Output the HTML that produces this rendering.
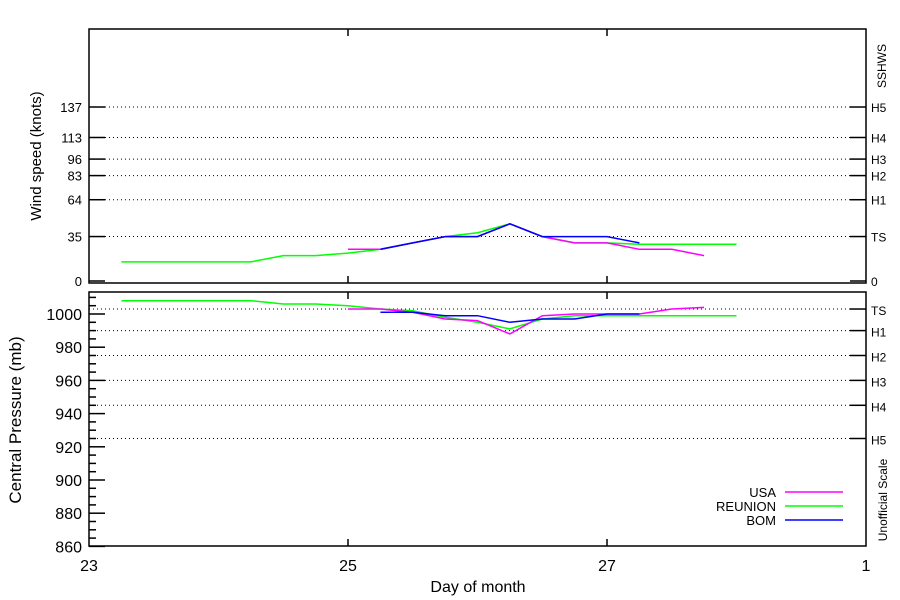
<!DOCTYPE html>
<html><head><meta charset="utf-8"><style>
body{margin:0;background:#fff}
svg{display:block;font-family:"Liberation Sans",sans-serif}
</style></head><body>
<svg id="c" width="900" height="600" viewBox="0 0 900 600"></svg>
<script>
const days=[23,25,27,29];
const dayLabels=["23","25","27","1"];
const windTicks=[0,35,64,83,96,113,137];
const windCats=["0","TS","H1","H2","H3","H4","H5"];
const presTicks=[860,880,900,920,940,960,980,1000];
const presCatVals=[1003,990,975,960,945,925];
const presCats=["TS","H1","H2","H3","H4","H5"];
const usaT=[25,25.25,25.5,25.75,26,26.25,26.5,26.75,27,27.25,27.5,27.75];
const usaW=[25,25,30,35,35,45,35,30,30,25,25,20];
const usaP=[1003,1003,1001,997,996,988,999,1000,1000,1000,1003,1004];
const reuT=[23.25,24.25,24.5,24.75,25,25.25,25.5,25.75,26,26.25,26.5,26.75,27,27.25,27.5,27.75,28];
const reuW=[15,15,20,20,22,25,30,35,38,45,35,30,30,29,29,29,29];
const reuP=[1008,1008,1006,1006,1005,1003,1002,998,995,991,997,999,999,999,999,999,999];
const bomT=[25.25,25.5,25.75,26,26.25,26.5,26.75,27,27.25];
const bomW=[25,30,35,35,45,35,35,35,30];
const bomP=[1001,1001,999,999,995,997,997,1000,1000];

const svg=document.getElementById('c');
const NS="http://www.w3.org/2000/svg";
function el(tag,attrs,parent){const e=document.createElementNS(NS,tag);for(const k in attrs)e.setAttribute(k,attrs[k]);(parent||svg).appendChild(e);return e;}
const X0=89,X1=866;
const x=d=>X0+(d-23)/6*(X1-X0);
const yW=v=>281-v*1.27;
const yP=v=>314-(v-1000)*1.66;
const T1=29,B1=283,T2=292,B2=546;

// panels
let p1=el('rect',{x:X0,y:T1,width:X1-X0,height:B1-T1,fill:'none',stroke:'#000','stroke-width':1.5});

let p2=el('rect',{x:X0,y:T2,width:X1-X0,height:B2-T2,fill:'none',stroke:'#000','stroke-width':1.5});


// x ticks
days.forEach((d,i)=>{
  [[T1,1],[B1,-1],[T2,1],[B2,-1]].forEach(([yy,s])=>{
    if(d>23&&d<29){let t=el('line',{x1:x(d),x2:x(d),y1:yy,y2:yy+s*7,stroke:'#000','stroke-width':1.5});
    }
  });
  let t=el('text',{x:x(d),y:571,'text-anchor':'middle','font-size':16});
  t.textContent=dayLabels[i];
  
});
let xt=el('text',{x:478,y:592,'text-anchor':'middle','font-size':16});xt.textContent='Day of month';


// wind grid
windTicks.forEach((v,i)=>{
  const yy=yW(v);
  if(v>0){let g=el('line',{x1:X0,x2:X1,y1:yy,y2:yy,stroke:'#000','stroke-dasharray':'1,3'});
  }
  let a=el('line',{x1:X0,x2:X0+16,y1:yy,y2:yy,stroke:'#000','stroke-width':1.5});
  
  let b=el('line',{x1:X1-16,x2:X1,y1:yy,y2:yy,stroke:'#000','stroke-width':1.5});
  
  let t=el('text',{x:82,y:yy+5,'text-anchor':'end','font-size':13});t.textContent=v;
  
  let c=el('text',{x:871,y:yy+5,'font-size':12});c.textContent=windCats[i];
  
});
let wt=el('text',{x:0,y:0,'text-anchor':'middle','font-size':15,transform:'translate(41,156) rotate(-90)'});wt.textContent='Wind speed (knots)';

let ss=el('text',{x:0,y:0,'text-anchor':'middle','font-size':12,transform:'translate(886,66) rotate(-90)'});ss.textContent='SSHWS';


// pressure axis
for(let v=860;v<=1010;v+=5){
  const yy=yP(v);const major=v%20===0;
  let a=el('line',{x1:X0,x2:X0+(major?16:7),y1:yy,y2:yy,stroke:'#000','stroke-width':1.5});
  
}
presTicks.forEach(v=>{
  let t=el('text',{x:82,y:yP(v)+6,'text-anchor':'end','font-size':16});t.textContent=v;
  
});
presCatVals.forEach((v,i)=>{
  const yy=yP(v);
  let g=el('line',{x1:X0,x2:X1,y1:yy,y2:yy,stroke:'#000','stroke-dasharray':'1,3'});
  
  let b=el('line',{x1:X1-16,x2:X1,y1:yy,y2:yy,stroke:'#000','stroke-width':1.5});
  
  let c=el('text',{x:871,y:yy+6,'font-size':12});c.textContent=presCats[i];
  
});
let pt=el('text',{x:0,y:0,'text-anchor':'middle','font-size':17,transform:'translate(21,420) rotate(-90)'});pt.textContent='Central Pressure (mb)';

let us=el('text',{x:0,y:0,'text-anchor':'middle','font-size':12,transform:'translate(887,500) rotate(-90)'});us.textContent='Unofficial Scale';


// series
function line(ts,vs,fy,color,name){
  const pts=ts.map((t,i)=>x(t).toFixed(1)+','+fy(vs[i]).toFixed(1)).join(' ');
  let p=el('polyline',{points:pts,fill:'none',stroke:color,'stroke-width':1.5});
  
}
line(reuT,reuW,yW,'#00ff00','reunion-wind-line');
line(usaT,usaW,yW,'#ff00ff','usa-wind-line');
line(bomT,bomW,yW,'#0000ff','bom-wind-line');
line(reuT,reuP,yP,'#00ff00','reunion-pressure-line');
line(usaT,usaP,yP,'#ff00ff','usa-pressure-line');
line(bomT,bomP,yP,'#0000ff','bom-pressure-line');

// legend
[['USA','#ff00ff',492],['REUNION','#00ff00',506],['BOM','#0000ff',520]].forEach(([n,c,yy])=>{
  let t=el('text',{x:776,y:yy+5,'text-anchor':'end','font-size':13});t.textContent=n;
  
  let l=el('line',{x1:785,x2:843,y1:yy,y2:yy,stroke:c,'stroke-width':1.5});
  
});
</script>
</body></html>
